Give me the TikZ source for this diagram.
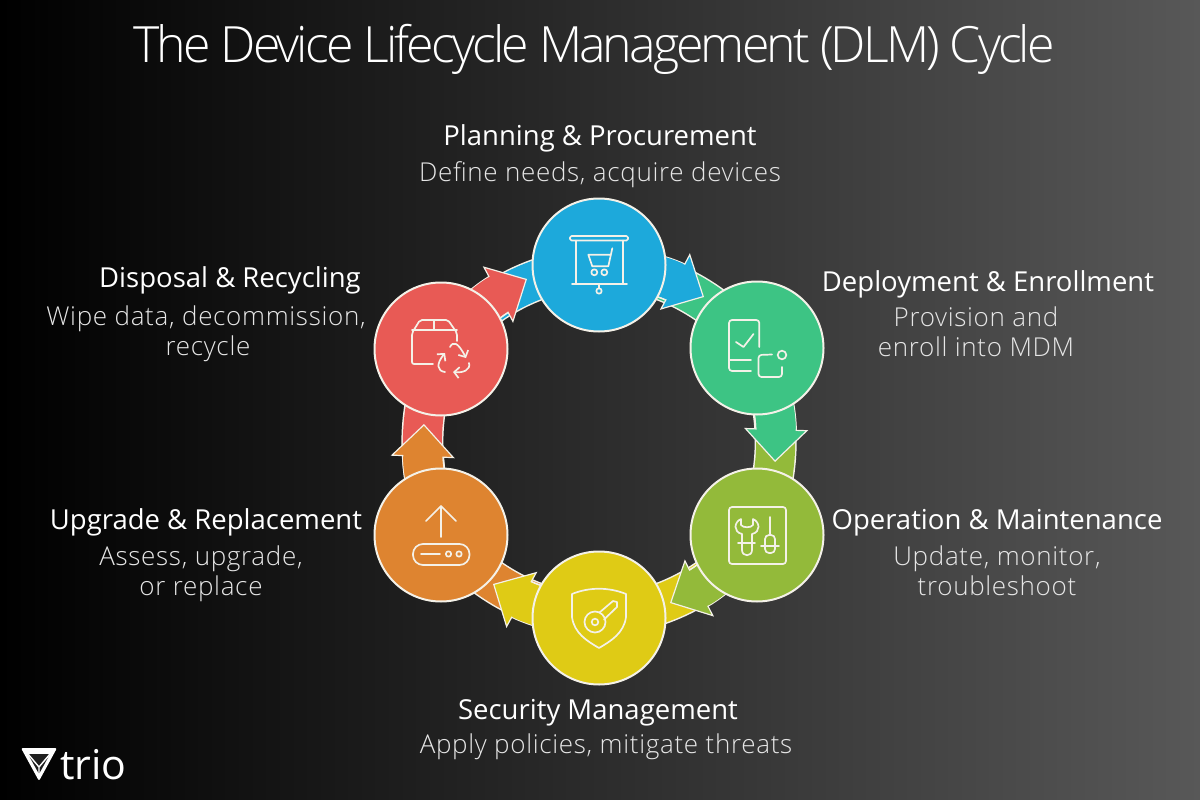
\documentclass[tikz,border=0pt]{standalone}
\usepackage{fontspec}
\usepackage{xcolor}
\usetikzlibrary{arrows.meta}
\setmainfont{Open Sans}
\newfontfamily\titlefont{Open Sans}[UprightFont={* Light}, LetterSpace=-5.8]
\newfontfamily\detailfont{Open Sans}[UprightFont={* Light}, LetterSpace=2.6]

\definecolor{cPlan}{HTML}{1DA9DB}
\definecolor{cDeploy}{HTML}{3DC484}
\definecolor{cOper}{HTML}{93BA3A}
\definecolor{cSecu}{HTML}{DFCB15}
\definecolor{cUpgr}{HTML}{DE8430}
\definecolor{cDisp}{HTML}{E85A55}
\definecolor{edge}{HTML}{F4F1E8}
\definecolor{bgright}{HTML}{585858}
\definecolor{subtext}{HTML}{E6E6E6}

\pgfdeclarelayer{ground}
\pgfdeclarelayer{links}
\pgfsetlayers{ground,links,main}

\tikzset{
    stage/.style={draw=edge, circle, line width=2pt, minimum size=133pt, inner sep=0pt},
    ringband/.style={line width=39pt, draw=#1, preaction={draw=edge, line width=42pt}},
    linkarrow/.style={line width=39pt, draw=#1,
        -{Triangle[width=64pt, length=33pt, fill=#1, color=edge, line width=1.2pt]},
        preaction={draw=edge, line width=42pt, -, shorten >=24pt},
        postaction={draw=#1, line width=39pt, -, shorten >=29pt}},
    iconline/.style={draw=edge, line width=1.7pt, line cap=round, line join=round},
    recycle/.style={iconline, -{Straight Barb[length=5pt, width=11pt, line width=1.7pt]}},
    heading/.style={anchor=base, inner sep=0pt, text=white, font=\fontsize{27.5}{27.5}\selectfont},
    detail/.style={anchor=base, inner sep=0pt, text=subtext, font=\detailfont\fontsize{26}{26}\selectfont}
}

\begin{document}
\begin{tikzpicture}[x=1pt, y=-1pt]
    % Background
    \begin{pgfonlayer}{ground}
        \fill[left color=black, right color=bgright] (0,0) rectangle (1200,800);
    \end{pgfonlayer}

    % Title
    \node[anchor=base, inner sep=0pt, text=white, font=\titlefont\fontsize{50}{50}\selectfont] (Title) at (594,63) {The Device Lifecycle Management (DLM) Cycle};

    % Stages
    \foreach \name/\x/\y in {Plan/599/265, Deploy/757/348, Oper/757/535, Secu/599/618, Upgr/441/535, Disp/441/349}
    {
        \node[stage, fill=c\name] (\name) at (\x,\y) {};
    }

    % Arrow tips
    \foreach \name/\x/\y in {Plan/704/297, Deploy/775/462, Oper/670/603, Secu/493/584, Upgr/424/424, Disp/527/279}
    {
        \coordinate (Tip-\name) at (\x,\y);
    }

    % Ring pieces, then arrows on top
    \begin{pgfonlayer}{links}
        \foreach \src/\dst in {Plan/Deploy, Deploy/Oper, Oper/Secu, Secu/Upgr, Upgr/Disp, Disp/Plan}
        {
            \draw[ringband=c\dst] (\src.center) to[bend left=20] (\dst.center);
        }
        \foreach \src in {Plan, Deploy, Oper, Secu, Upgr, Disp}
        {
            \draw[linkarrow=c\src] (\src.center) to[bend left=11] (Tip-\src);
        }
    \end{pgfonlayer}

    % Icon - Planning
    \begin{scope}[shift={(Plan)}]
        \draw[iconline, rounded corners=1.5pt] (-29,-29) rectangle (29,-24.5);
        \draw[iconline] (-23,-24.5) -- (-23,19) (24,-24.5) -- (24,19) (-27,19) -- (28,19) (0,19) -- (0,23);
        \draw[iconline] (0,26) circle (2.7);
        \draw[iconline] (13.3,-16.7) -- (9.3,1.3) -- (-6.7,1.3) -- (-10.7,-10.3) -- (11.3,-10.3);
        \draw[iconline] (-4.7,7.3) circle (3) (5.3,7.3) circle (3);
    \end{scope}

    % Icon - Deployment
    \begin{scope}[shift={(Deploy)}]
        \draw[iconline, rounded corners=3pt] (-6,23) -- (-28,23) -- (-28,-28) -- (2.3,-28) -- (2.3,-1);
        \draw[iconline] (-28,12) -- (-6,12);
        \draw[iconline] (-21,-6) -- (-13.5,-1) -- (-3.5,-14);
        \draw[iconline, rounded corners=3pt] (15,6.5) -- (1.5,7) -- (1.5,29) -- (25,29) -- (25,19);
        \draw[iconline] (25,7) circle (4.3);
    \end{scope}

    % Icon - Operation
    \begin{scope}[shift={(Oper)}]
        \draw[iconline, rounded corners=3pt] (-28,-28) rectangle (29,29);
        \draw[iconline] (-16,-16) .. controls (-23,-13) and (-24,-3) .. (-15,-1) -- (-15,15) .. controls (-15,22) and (-5,22) .. (-5,15) -- (-5,-1) .. controls (4,-3) and (3,-13) .. (-4,-16) -- (-4,-10) .. controls (-6,-7) and (-14,-7) .. (-16,-10) -- cycle;
        \draw[iconline] (-19,8) -- (-2,8);
        \draw[iconline] (13,-18) -- (13,0);
        \draw[iconline, rounded corners=4pt] (8,0) rectangle (18,18);
        \draw[iconline] (4,11) -- (22,11);
    \end{scope}

    % Icon - Security
    \begin{scope}[shift={(Secu)}]
        \draw[iconline] (-27,-24) .. controls (-10,-31) and (10,-31) .. (27,-24) -- (27,-1) .. controls (25,15) and (12,23) .. (0,30) .. controls (-12,23) and (-25,15) .. (-27,-1) -- cycle;
        \draw[iconline] (-4,4) circle (10.5) (-4,4) circle (3.3);
        \draw[iconline] (0.5,-5.5) -- (14,-17) -- (18,-16) -- (18,-11) -- (5,1.5);
    \end{scope}

    % Icon - Upgrade
    \begin{scope}[shift={(Upgr)}]
        \draw[iconline] (0,-29) -- (0,2) (-15,-14) -- (0,-29) -- (15,-14);
        \draw[iconline, rounded corners=10pt] (-28,9) rectangle (28.5,30);
        \draw[iconline] (-20,19) -- (-1,19);
        \draw[iconline] (7.5,19) circle (2.7) (18,19) circle (2.7);
    \end{scope}

    % Icon - Disposal
    \begin{scope}[shift={(Disp)}]
        \draw[iconline, rounded corners=2pt] (-8,15) -- (-29,15) -- (-29,-16) -- (-21,-29) -- (7,-29) -- (16,-16) -- (16,-8);
        \draw[iconline] (-29,-19) -- (16,-19) (-7,-29) -- (-7,-19);
        \draw[recycle] (9,-2) .. controls (12,-8) and (17,-7) .. (25,9);
        \draw[recycle] (28,14) .. controls (30,21) and (22,24) .. (12,23);
        \draw[recycle] (4,23) .. controls (-4,22) and (-5,15) .. (4,4);
    \end{scope}

    % Labels
    \node[heading] (Plan-head) at (600,145) {Planning \& Procurement};
    \node[detail] (Plan-sub) at (600,181) {Define needs, acquire devices};

    \node[heading] (Deploy-head) at (988,291) {Deployment \& Enrollment};
    \node[detail] (Deploy-sub1) at (976,326) {Provision and};
    \node[detail] (Deploy-sub2) at (976,356) {enroll into MDM};

    \node[heading] (Oper-head) at (997,529) {Operation \& Maintenance};
    \node[detail] (Oper-sub1) at (997,565) {Update, monitor,};
    \node[detail] (Oper-sub2) at (997,595) {troubleshoot};

    \node[heading] (Secu-head) at (598,719) {Security Management};
    \node[detail] (Secu-sub) at (606,753) {Apply policies, mitigate threats};

    \node[heading] (Upgr-head) at (206,529) {Upgrade \& Replacement};
    \node[detail] (Upgr-sub1) at (201,565) {Assess, upgrade,};
    \node[detail] (Upgr-sub2) at (201,595) {or replace};

    \node[heading] (Disp-head) at (230,287) {Disposal \& Recycling};
    \node[detail] (Disp-sub1) at (206,325) {Wipe data, decommission,};
    \node[detail] (Disp-sub2) at (208,355) {recycle};

    % Logo
    \fill[white, rounded corners=2pt] (21,748) -- (57,748) -- (39,781) -- cycle;
    \fill[black!88, rounded corners=1pt] (28,754) -- (50,754) -- (39,774) -- cycle;
    \draw[white, line width=1.4pt] (39,767) -- (39,778) (39,767) -- (28,754) (39,767) -- (50,754);
    \node[anchor=base west, inner sep=0pt, text=white, font=\fontsize{41}{41}\selectfont] (Logo) at (60,779) {trio};
\end{tikzpicture}
\end{document}
